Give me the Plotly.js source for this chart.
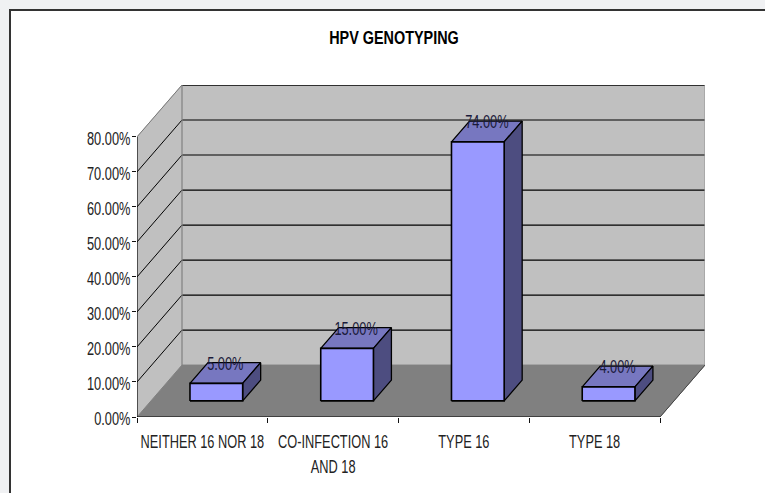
<!DOCTYPE html>
<html><head><meta charset="utf-8">
<script src="https://cdn.plot.ly/plotly-3.0.1.min.js"></script>
<style>
html,body{margin:0;padding:0;width:765px;height:493px;overflow:hidden;background:#f0f1f3}
#frame{position:absolute;left:9px;top:9px;width:770px;height:500px;background:#fff;border:2px solid #333;box-sizing:border-box}
#chart{position:absolute;left:0;top:0;width:765px;height:493px}
</style></head><body>
<div id="frame"></div><div id="chart"></div>
<script>
const categories = ['NEITHER 16 NOR 18', 'CO-INFECTION 16<br>AND 18', 'TYPE 16', 'TYPE 18'];
const values = [5, 15, 74, 4];
const valueLabels = ['5.00%', '15.00%', '74.00%', '4.00%'];
const yTicks = [0, 10, 20, 30, 40, 50, 60, 70, 80];
const yTickLabels = ['0.00%', '10.00%', '20.00%', '30.00%', '40.00%', '50.00%', '60.00%', '70.00%', '80.00%'];

// oblique projection of the depth axis, in axis units
const DX = 45 / 130.75, DY = 52 / 3.506;
const barW = 0.403, z0 = 0.31, z1 = 0.71;
const yMax = 80, nCat = categories.length;
const P = (x, y, z) => [x + z * DX, y + z * DY];

const FONT = '"Liberation Sans", Arial, sans-serif';
const traces = [];
function poly(pts, fill, lineColor, lw) {
  pts = pts.concat([pts[0]]);
  traces.push({type: 'scatter', mode: 'lines', x: pts.map(p => p[0]), y: pts.map(p => p[1]),
    fill: 'toself', fillcolor: fill, line: {color: lineColor || fill, width: lw === undefined ? 1 : lw},
    hoverinfo: 'skip', showlegend: false, cliponaxis: false});
}
function seg(a, b, color, w) {
  traces.push({type: 'scatter', mode: 'lines', x: [a[0], b[0]], y: [a[1], b[1]],
    line: {color: color, width: w}, hoverinfo: 'skip', showlegend: false, cliponaxis: false});
}
// walls and floor
poly([P(0,0,0), P(0,yMax,0), P(0,yMax,1), P(0,0,1)], '#c0c0c0');
poly([P(0,0,1), P(0,yMax,1), P(nCat,yMax,1), P(nCat,0,1)], '#c0c0c0');
poly([P(0,0,0), P(nCat,0,0), P(nCat,0,1), P(0,0,1)], '#808080');
// gridlines
yTicks.forEach(v => {
  if (v === 0) return;
  const top = v === yMax;
  seg(P(0,v,0), P(0,v,1), top ? '#777' : '#000', 1);
  seg(P(0,v,1), P(nCat,v,1), '#000', top ? 1.6 : 1.2);
});
seg(P(0,0,1), P(0,yMax,1), '#808080', 1.2);
seg(P(nCat,0,1), P(nCat,yMax,1), '#999', 1.2);
seg(P(nCat,0,0), P(nCat,0,1), '#444', 1);
seg(P(0,0,0), P(0,yMax,0), '#000', 1.2);
seg(P(0,0,0), P(nCat,0,0), '#000', 1.2);
// bars
values.forEach((v, i) => {
  const a = i + (1 - barW) / 2, b = a + barW;
  poly([P(a,v,z0), P(b,v,z0), P(b,v,z1), P(a,v,z1)], '#7777c0', '#000', 1.3);
  poly([P(b,0,z0), P(b,v,z0), P(b,v,z1), P(b,0,z1)], '#4d4d80', '#000', 1.3);
  poly([P(a,0,z0), P(b,0,z0), P(b,v,z0), P(a,v,z0)], '#9999ff', '#000', 1.6);
});
// value labels sit on the back edge of each bar top
const labelDrop = 0.8;
traces.push({type: 'scatter', mode: 'text',
  x: values.map((v, i) => P(i + 0.5, v, (z0 + z1) / 2)[0]),
  y: values.map((v, i) => P(i + 0.5, v, z1)[1] - labelDrop),
  text: valueLabels, textposition: 'middle center', textfont: {family: FONT, size: 18, color: '#1a1a3a'},
  hoverinfo: 'skip', showlegend: false, cliponaxis: false});

const W = 765, H = 493, L = 137, R = 60, T = 85, B = 75.5;
const layout = {
  width: W, height: H, margin: {l: L, r: R, t: T, b: B, pad: 0},
  paper_bgcolor: 'rgba(0,0,0,0)', plot_bgcolor: 'rgba(0,0,0,0)',
  showlegend: false,
  font: {family: FONT, size: 18, color: '#222'},
  title: {text: '<b>HPV GENOTYPING</b>', x: 394 / W, xanchor: 'center', y: 1 - 38 / H, yanchor: 'middle',
    font: {family: FONT, size: 18, color: '#000'}},
  xaxis: {range: [0, nCat * (W - L - R) / 523], showgrid: false, zeroline: false, showline: false,
    tickmode: 'array', tickvals: categories.map((c, i) => i + 0.5), ticktext: categories,
    ticks: '', tickangle: 0, ticklabelstandoff: 12, tickfont: {family: FONT, size: 18, color: '#222'},
    minor: {tickmode: 'array', tickvals: [0, 1, 2, 3, 4], ticks: 'outside', ticklen: 5, tickwidth: 1, tickcolor: '#111', showgrid: false}},
  yaxis: {range: [0, yMax * (H - T - B) / 280.5], showgrid: false, zeroline: false, showline: false,
    tickmode: 'array', tickvals: yTicks, ticktext: yTickLabels, ticks: 'outside', ticklen: 4, tickwidth: 1, tickcolor: '#111',
    ticklabelstandoff: -2, tickfont: {family: FONT, size: 18, color: '#222'}}
};
// the reference uses a horizontally squeezed face: condense the live SVG text
function condense(el, f) {
  const len = el.getComputedTextLength();
  el.setAttribute('textLength', (len * f).toFixed(1));
  el.setAttribute('lengthAdjust', 'spacingAndGlyphs');
}
Plotly.newPlot('chart', traces, layout, {displayModeBar: false, staticPlot: true}).then(() => {
  document.querySelectorAll('#chart svg text').forEach(t => {
    const f = t.classList.contains('gtitle') ? 0.8 : 0.71;
    const lines = t.querySelectorAll('tspan.line');
    if (lines.length) lines.forEach(l => {
      condense(l, f);
      if (parseFloat(l.getAttribute('dy')) > 0) l.setAttribute('dy', '25px');
    });
    else condense(t, f);
  });
  document.querySelectorAll('#chart .ytick text').forEach(t => t.setAttribute('dy', '1.5'));
});
</script></body></html>
